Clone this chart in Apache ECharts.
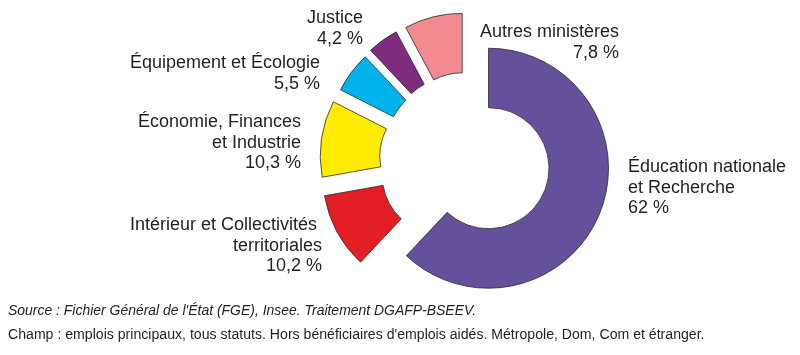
<!DOCTYPE html>
<html>
<head>
<meta charset="utf-8">
<script src="https://cdn.jsdelivr.net/npm/echarts@6/dist/echarts.min.js"></script>
<style>
html,body{margin:0;padding:0;background:#fff;}
#c{width:800px;height:355px;}
</style>
</head>
<body>
<div id="c"></div>
<script>
const categories = [
  "Éducation nationale\net Recherche",
  "Intérieur et Collectivités \nterritoriales",
  "Économie, Finances\net Industrie",
  "Équipement et Écologie",
  "Justice",
  "Autres ministères"
];
const values = [62, 10.2, 10.3, 5.5, 4.2, 7.8];
const colors = ["#65509C", "#E31E24", "#FFEC00", "#00B4EB", "#7E2C7E", "#F28B8F"];
const sourceText = "Source : Fichier Général de l'État (FGE), Insee. Traitement DGAFP-BSEEV.";
const champText = "Champ : emplois principaux, tous statuts. Hors bénéficiaires d'emplois aidés. Métropole, Dom, Com et étranger.";

// style: how far each slice is pulled out of the ring (px)
const explode = [21, 30, 29, 27, 28, 28];

// label anchor positions (style only)
const labelPos = [
  {x: 628, y: 157, align: 'left'},
  {x: 322, y: 215, align: 'right'},
  {x: 301, y: 112, align: 'right'},
  {x: 320, y: 53, align: 'right'},
  {x: 363, y: 8, align: 'right'},
  {x: 619, y: 22, align: 'right'}
];

function fmt(v){ return String(v).replace('.', ',') + ' %'; }

const FONT = 'Liberation Sans, Arial, sans-serif';
const labelGraphics = categories.map((n, i) => ({
  type: 'text',
  x: labelPos[i].x,
  y: labelPos[i].y,
  style: {
    text: n + '\n' + fmt(values[i]),
    align: labelPos[i].align,
    verticalAlign: 'top',
    fontSize: 18,
    lineHeight: 20.5,
    fontFamily: FONT,
    fill: '#231f20'
  }
}));

// one pie layer per slice so each slice can have its own explosion distance
const series = categories.map((_, k) => ({
  type: 'pie',
  center: [469, 160.5],
  radius: [60.5, 120],
  startAngle: 90,
  clockwise: true,
  silent: true,
  selectedMode: 'multiple',
  selectedOffset: explode[k],
  emphasis: {disabled: true},
  label: {show: false},
  labelLine: {show: false},
  data: categories.map((n, i) => ({
    name: n,
    value: values[i],
    selected: i === k,
    itemStyle: i === k
      ? {color: colors[i], borderColor: '#2b2b2b', borderWidth: 0.8}
      : {color: 'rgba(0,0,0,0)', borderWidth: 0}
  }))
}));

const chart = echarts.init(document.getElementById('c'), null, {renderer: 'canvas'});
chart.setOption({
  animation: false,
  series: series,
  graphic: labelGraphics.concat([
    {type: 'text', x: 8, y: 311, scaleX: 0.9, style: {text: sourceText, fontSize: 15.5, fontStyle: 'italic', fontFamily: FONT, fill: '#231f20', verticalAlign: 'middle'}},
    {type: 'text', x: 8, y: 334.5, scaleX: 0.91, style: {text: champText, fontSize: 15.5, fontFamily: FONT, fill: '#231f20', verticalAlign: 'middle'}}
  ])
});
</script>
</body>
</html>
